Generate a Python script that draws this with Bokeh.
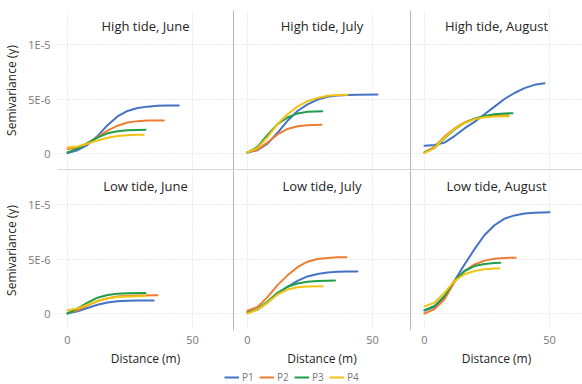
from bokeh.plotting import figure
from bokeh.layouts import column, row
from bokeh.models import Range1d, FixedTicker, Span, Label, Legend, LegendItem
from bokeh.embed import file_html
from bokeh.resources import INLINE

# ---------------- data (semivariance in units of 1E-6) ----------------
series_names = ["P1", "P2", "P3", "P4"]
panel_titles = ["High tide, June", "High tide, July", "High tide, August",
                "Low tide, June", "Low tide, July", "Low tide, August"]
x_ticks = [0, 50]
y_ticks = [0, 5, 10]
y_tick_labels = ["0", "5E-6", "1E-5"]

# High tide, June
hjun_p1_d = [0, 4, 8, 12, 16, 20, 24, 28, 32, 36, 40, 44.5]
hjun_p1_v = [0.05, 0.3, 0.8, 1.6, 2.6, 3.4, 3.9, 4.18, 4.3, 4.37, 4.4, 4.4]
hjun_p2_d = [0, 4, 8, 12, 16, 20, 24, 28, 32, 38.5]
hjun_p2_v = [0.4, 0.55, 0.95, 1.5, 2.1, 2.55, 2.85, 2.97, 3.02, 3.03]
hjun_p3_d = [0, 4, 8, 12, 16, 20, 24, 28, 31.2]
hjun_p3_v = [0.1, 0.45, 0.95, 1.45, 1.85, 2.05, 2.13, 2.16, 2.17]
hjun_p4_d = [0, 4, 8, 12, 16, 20, 24, 28, 30.5]
hjun_p4_v = [0.55, 0.65, 0.9, 1.2, 1.45, 1.6, 1.68, 1.71, 1.72]

# High tide, July
hjul_p1_d = [0, 4, 8, 12, 16, 20, 24, 28, 32, 36, 40, 44, 52]
hjul_p1_v = [0.1, 0.3, 0.9, 1.9, 3.0, 3.9, 4.5, 4.95, 5.2, 5.32, 5.37, 5.4, 5.42]
hjul_p2_d = [0, 4, 8, 12, 16, 20, 24, 29.6]
hjul_p2_v = [0.1, 0.35, 1.0, 1.75, 2.25, 2.5, 2.6, 2.63]
hjul_p3_d = [0, 4, 8, 12, 16, 20, 24, 29.9]
hjul_p3_v = [0.1, 0.6, 1.7, 2.7, 3.3, 3.68, 3.83, 3.88]
hjul_p4_d = [0, 4, 8, 12, 16, 20, 24, 28, 32, 36, 40]
hjul_p4_v = [0.1, 0.5, 1.5, 2.7, 3.6, 4.3, 4.8, 5.1, 5.3, 5.37, 5.4]

# High tide, August
haug_p1_d = [0, 4, 8, 12, 16, 20, 24, 28, 32, 36, 40, 44, 48]
haug_p1_v = [0.72, 0.78, 1.0, 1.6, 2.3, 2.9, 3.6, 4.3, 5.0, 5.55, 6.0, 6.3, 6.45]
haug_p2_d = [0, 4, 8, 12, 16, 20, 24, 28, 33.6]
haug_p2_v = [0.1, 0.6, 1.55, 2.3, 2.85, 3.2, 3.4, 3.47, 3.5]
haug_p3_d = [0, 4, 8, 12, 16, 20, 24, 28, 32, 35.2]
haug_p3_v = [0.1, 0.5, 1.4, 2.2, 2.8, 3.2, 3.45, 3.6, 3.67, 3.7]
haug_p4_d = [0, 4, 8, 12, 16, 20, 24, 28, 33.6]
haug_p4_v = [0.05, 0.5, 1.45, 2.25, 2.8, 3.15, 3.33, 3.4, 3.42]

# Low tide, June
ljun_p1_d = [0, 4, 8, 12, 16, 20, 24, 28, 34.5]
ljun_p1_v = [0.0, 0.2, 0.5, 0.8, 1.0, 1.12, 1.17, 1.2, 1.2]
ljun_p2_d = [0, 4, 8, 12, 16, 20, 24, 28, 36]
ljun_p2_v = [0.05, 0.3, 0.75, 1.15, 1.4, 1.55, 1.62, 1.66, 1.67]
ljun_p3_d = [0, 4, 8, 12, 16, 20, 24, 31.2]
ljun_p3_v = [0.0, 0.45, 1.0, 1.45, 1.7, 1.82, 1.86, 1.88]
ljun_p4_d = [0, 4, 8, 12, 16, 20, 24, 31.2]
ljun_p4_v = [0.3, 0.45, 0.8, 1.15, 1.4, 1.52, 1.57, 1.6]

# Low tide, July
ljul_p1_d = [0, 4, 8, 12, 16, 20, 24, 28, 32, 36, 40, 44]
ljul_p1_v = [0.15, 0.35, 1.0, 1.8, 2.45, 3.0, 3.4, 3.63, 3.76, 3.82, 3.85, 3.86]
ljul_p2_d = [0, 4, 8, 12, 16, 20, 24, 28, 32, 36, 39.6]
ljul_p2_v = [0.25, 0.6, 1.5, 2.6, 3.5, 4.25, 4.75, 5.0, 5.1, 5.15, 5.15]
ljul_p3_d = [0, 4, 8, 12, 16, 20, 24, 28, 35]
ljul_p3_v = [0.05, 0.4, 1.1, 1.9, 2.45, 2.75, 2.92, 2.98, 3.02]
ljul_p4_d = [0, 4, 8, 12, 16, 20, 24, 30]
ljul_p4_v = [0.0, 0.35, 1.0, 1.75, 2.2, 2.4, 2.47, 2.5]

# Low tide, August
laug_p1_d = [0, 4, 8, 12, 16, 20, 24, 28, 32, 36, 40, 44, 50]
laug_p1_v = [0.28, 0.6, 1.5, 3.0, 4.5, 5.9, 7.2, 8.1, 8.7, 9.0, 9.17, 9.25, 9.3]
laug_p2_d = [0, 4, 8, 12, 16, 20, 24, 28, 32, 36.5]
laug_p2_v = [0.0, 0.4, 1.3, 2.9, 3.9, 4.5, 4.85, 5.02, 5.1, 5.12]
laug_p3_d = [0, 4, 8, 12, 16, 20, 24, 28, 30.3]
laug_p3_v = [0.3, 0.7, 1.6, 3.0, 3.9, 4.35, 4.55, 4.63, 4.66]
laug_p4_d = [0, 4, 8, 12, 16, 20, 24, 28, 30]
laug_p4_v = [0.65, 1.0, 1.9, 3.0, 3.6, 3.9, 4.05, 4.12, 4.14]

panels = [
    [(hjun_p1_d, hjun_p1_v), (hjun_p2_d, hjun_p2_v), (hjun_p3_d, hjun_p3_v), (hjun_p4_d, hjun_p4_v)],
    [(hjul_p1_d, hjul_p1_v), (hjul_p2_d, hjul_p2_v), (hjul_p3_d, hjul_p3_v), (hjul_p4_d, hjul_p4_v)],
    [(haug_p1_d, haug_p1_v), (haug_p2_d, haug_p2_v), (haug_p3_d, haug_p3_v), (haug_p4_d, haug_p4_v)],
    [(ljun_p1_d, ljun_p1_v), (ljun_p2_d, ljun_p2_v), (ljun_p3_d, ljun_p3_v), (ljun_p4_d, ljun_p4_v)],
    [(ljul_p1_d, ljul_p1_v), (ljul_p2_d, ljul_p2_v), (ljul_p3_d, ljul_p3_v), (ljul_p4_d, ljul_p4_v)],
    [(laug_p1_d, laug_p1_v), (laug_p2_d, laug_p2_v), (laug_p3_d, laug_p3_v), (laug_p4_d, laug_p4_v)],
]

# ---------------- styling / layout ----------------
COLORS = ["#4472C4", "#ED7D31", "#1E9E48", "#F2C314"]
FONT = "Open Sans"
TEXT_DARK = "#252423"
TEXT_GREY = "#777777"

COL_W = [233, 177, 172]
COL_ML = [57, 0, 0]
COL_XR = [(-4.0, 66.4), (-5.6, 65.2), (-5.6, 63.2)]
ROW_FRAME_H = 160
ROW_MT = [10, 0]
ROW_MB = [0, 40]
Y_RANGE = (-1.56, 13.12)
TITLE_Y = 11.74
LEGEND_H = 14


def style_axes(p, r, c):
    p.xgrid.ticker = FixedTicker(ticks=x_ticks)
    p.ygrid.ticker = FixedTicker(ticks=y_ticks)
    for g in (p.xgrid, p.ygrid):
        g.grid_line_color = "#D9D9D9"
        g.grid_line_dash = "1 2"
        g.grid_line_width = 1

    xa = p.xaxis[0]
    xa.ticker = FixedTicker(ticks=x_ticks)
    xa.axis_line_color = None
    xa.major_tick_line_color = None
    xa.minor_tick_line_color = None
    xa.major_tick_out = 0
    xa.major_tick_in = 0
    xa.major_label_text_font = FONT
    xa.major_label_text_font_size = "11px"
    xa.major_label_text_color = TEXT_GREY
    xa.major_label_standoff = 5
    xa.axis_label = "Distance (m)"
    xa.axis_label_text_font = FONT
    xa.axis_label_text_font_size = "12px"
    xa.axis_label_text_font_style = "normal"
    xa.axis_label_text_color = TEXT_DARK
    xa.axis_label_standoff = 3
    xa.visible = (r == 1)

    ya = p.yaxis[0]
    ya.ticker = FixedTicker(ticks=y_ticks)
    ya.major_label_overrides = {t: s for t, s in zip(y_ticks, y_tick_labels)}
    ya.axis_line_color = None
    ya.major_tick_line_color = None
    ya.minor_tick_line_color = None
    ya.major_tick_out = 0
    ya.major_tick_in = 0
    ya.major_label_text_font = FONT
    ya.major_label_text_font_size = "11px"
    ya.major_label_text_color = TEXT_GREY
    ya.major_label_standoff = 7
    ya.axis_label = "Semivariance (γ)"
    ya.axis_label_text_font = FONT
    ya.axis_label_text_font_size = "12px"
    ya.axis_label_text_font_style = "normal"
    ya.axis_label_text_color = TEXT_DARK
    ya.axis_label_standoff = 5
    ya.visible = (c == 0)


def make_panel(idx):
    r, c = divmod(idx, 3)
    x0, x1 = COL_XR[c]
    p = figure(width=COL_W[c], height=ROW_MT[r] + ROW_FRAME_H + ROW_MB[r],
               x_range=Range1d(x0, x1), y_range=Range1d(*Y_RANGE),
               output_backend="svg", toolbar_location=None,
               min_border_left=COL_ML[c], min_border_right=0,
               min_border_top=ROW_MT[r], min_border_bottom=ROW_MB[r])
    p.title.visible = False
    p.outline_line_color = None
    style_axes(p, r, c)

    for (d, v), color in zip(panels[idx], COLORS):
        p.line(d, v, line_color=color, line_width=2, line_cap="round")

    p.add_layout(Label(x=(x0 + x1) / 2, y=TITLE_Y, text=panel_titles[idx],
                       text_align="center", text_baseline="middle",
                       text_font=FONT, text_font_size="13px",
                       text_color=TEXT_DARK))

    if c > 0:
        p.add_layout(Span(location=x0, dimension="height",
                          line_color="#6B6B6B", line_width=1))
    if r == 0:
        p.add_layout(Span(location=Y_RANGE[0], dimension="width",
                          line_color="#B0B0B0", line_width=2))
    return p


figs = [make_panel(i) for i in range(6)]

# legend strip: series renderers drawn in a view window that shows no data,
# so only the legend entries are visible
leg_fig = figure(width=sum(COL_W), height=LEGEND_H,
                 x_range=Range1d(1000, 1001), y_range=Range1d(1000, 1001),
                 output_backend="svg", toolbar_location=None,
                 min_border_left=0, min_border_right=0,
                 min_border_top=0, min_border_bottom=0)
leg_fig.title.visible = False
leg_fig.outline_line_color = None
leg_fig.axis.visible = False
leg_fig.grid.visible = False
leg_renderers = []
for (d, v), color in zip(panels[4], COLORS):
    leg_renderers.append(leg_fig.line(d, v, line_color=color, line_width=2))
items = [LegendItem(label=n, renderers=[rr]) for n, rr in zip(series_names, leg_renderers)]
leg = Legend(items=items, orientation="horizontal", location=(224, 0),
             border_line_color=None, background_fill_alpha=0,
             label_text_font=FONT, label_text_font_size="10px",
             label_text_color=TEXT_GREY, glyph_width=15, glyph_height=10,
             label_height=10, label_width=12, label_standoff=3, spacing=5,
             padding=1, margin=0)
leg_fig.add_layout(leg)

layout = column(row(*figs[:3]), row(*figs[3:]), leg_fig)

open("out.html", "w").write(file_html(layout, INLINE))
